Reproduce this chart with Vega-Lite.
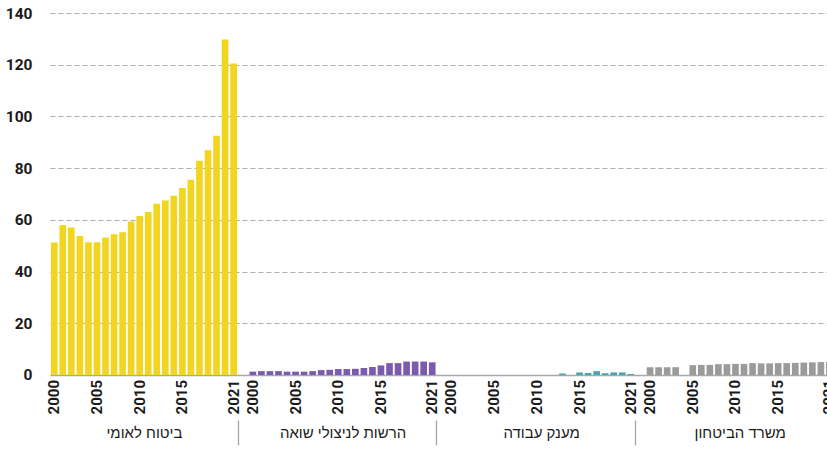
{
  "$schema": "https://vega.github.io/schema/vega-lite/v6.json",
  "width": 783.7,
  "height": 362,
  "autosize": {"type": "none"},
  "padding": {"left": 50, "top": 13, "right": 0, "bottom": 92},
  "background": "white",
  "config": {"view": {"stroke": null}, "font": "Roboto"},
  "data": {
    "values": [
      {"g": "ביטוח לאומי", "year": 2000, "v": 51.2},
      {"g": "ביטוח לאומי", "year": 2001, "v": 58.0},
      {"g": "ביטוח לאומי", "year": 2002, "v": 57.0},
      {"g": "ביטוח לאומי", "year": 2003, "v": 53.8},
      {"g": "ביטוח לאומי", "year": 2004, "v": 51.3},
      {"g": "ביטוח לאומי", "year": 2005, "v": 51.3},
      {"g": "ביטוח לאומי", "year": 2006, "v": 53.2},
      {"g": "ביטוח לאומי", "year": 2007, "v": 54.4},
      {"g": "ביטוח לאומי", "year": 2008, "v": 55.2},
      {"g": "ביטוח לאומי", "year": 2009, "v": 59.4},
      {"g": "ביטוח לאומי", "year": 2010, "v": 61.5},
      {"g": "ביטוח לאומי", "year": 2011, "v": 63.0},
      {"g": "ביטוח לאומי", "year": 2012, "v": 66.2},
      {"g": "ביטוח לאומי", "year": 2013, "v": 67.5},
      {"g": "ביטוח לאומי", "year": 2014, "v": 69.3},
      {"g": "ביטוח לאומי", "year": 2015, "v": 72.3},
      {"g": "ביטוח לאומי", "year": 2016, "v": 75.5},
      {"g": "ביטוח לאומי", "year": 2017, "v": 82.9},
      {"g": "ביטוח לאומי", "year": 2018, "v": 86.9},
      {"g": "ביטוח לאומי", "year": 2019, "v": 92.5},
      {"g": "ביטוח לאומי", "year": 2020, "v": 129.8},
      {"g": "ביטוח לאומי", "year": 2021, "v": 120.5},
      {"g": "הרשות לניצולי שואה", "year": 2000, "v": 1.3},
      {"g": "הרשות לניצולי שואה", "year": 2001, "v": 1.5},
      {"g": "הרשות לניצולי שואה", "year": 2002, "v": 1.5},
      {"g": "הרשות לניצולי שואה", "year": 2003, "v": 1.5},
      {"g": "הרשות לניצולי שואה", "year": 2004, "v": 1.3},
      {"g": "הרשות לניצולי שואה", "year": 2005, "v": 1.3},
      {"g": "הרשות לניצולי שואה", "year": 2006, "v": 1.3},
      {"g": "הרשות לניצולי שואה", "year": 2007, "v": 1.5},
      {"g": "הרשות לניצולי שואה", "year": 2008, "v": 1.9},
      {"g": "הרשות לניצולי שואה", "year": 2009, "v": 2.0},
      {"g": "הרשות לניצולי שואה", "year": 2010, "v": 2.3},
      {"g": "הרשות לניצולי שואה", "year": 2011, "v": 2.3},
      {"g": "הרשות לניצולי שואה", "year": 2012, "v": 2.4},
      {"g": "הרשות לניצולי שואה", "year": 2013, "v": 2.7},
      {"g": "הרשות לניצולי שואה", "year": 2014, "v": 3.1},
      {"g": "הרשות לניצולי שואה", "year": 2015, "v": 3.7},
      {"g": "הרשות לניצולי שואה", "year": 2016, "v": 4.6},
      {"g": "הרשות לניצולי שואה", "year": 2017, "v": 4.6},
      {"g": "הרשות לניצולי שואה", "year": 2018, "v": 5.2},
      {"g": "הרשות לניצולי שואה", "year": 2019, "v": 5.2},
      {"g": "הרשות לניצולי שואה", "year": 2020, "v": 5.2},
      {"g": "הרשות לניצולי שואה", "year": 2021, "v": 4.9},
      {"g": "מענק עבודה", "year": 2000, "v": null},
      {"g": "מענק עבודה", "year": 2001, "v": null},
      {"g": "מענק עבודה", "year": 2002, "v": null},
      {"g": "מענק עבודה", "year": 2003, "v": null},
      {"g": "מענק עבודה", "year": 2004, "v": null},
      {"g": "מענק עבודה", "year": 2005, "v": null},
      {"g": "מענק עבודה", "year": 2006, "v": null},
      {"g": "מענק עבודה", "year": 2007, "v": null},
      {"g": "מענק עבודה", "year": 2008, "v": null},
      {"g": "מענק עבודה", "year": 2009, "v": null},
      {"g": "מענק עבודה", "year": 2010, "v": null},
      {"g": "מענק עבודה", "year": 2011, "v": null},
      {"g": "מענק עבודה", "year": 2012, "v": null},
      {"g": "מענק עבודה", "year": 2013, "v": 0.6},
      {"g": "מענק עבודה", "year": 2014, "v": null},
      {"g": "מענק עבודה", "year": 2015, "v": 1.0},
      {"g": "מענק עבודה", "year": 2016, "v": 0.8},
      {"g": "מענק עבודה", "year": 2017, "v": 1.5},
      {"g": "מענק עבודה", "year": 2018, "v": 0.7},
      {"g": "מענק עבודה", "year": 2019, "v": 1.0},
      {"g": "מענק עבודה", "year": 2020, "v": 1.0},
      {"g": "מענק עבודה", "year": 2021, "v": 0.4},
      {"g": "משרד הביטחון", "year": 2000, "v": 3.0},
      {"g": "משרד הביטחון", "year": 2001, "v": 3.0},
      {"g": "משרד הביטחון", "year": 2002, "v": 3.0},
      {"g": "משרד הביטחון", "year": 2003, "v": 3.0},
      {"g": "משרד הביטחון", "year": 2004, "v": null},
      {"g": "משרד הביטחון", "year": 2005, "v": 3.8},
      {"g": "משרד הביטחון", "year": 2006, "v": 3.9},
      {"g": "משרד הביטחון", "year": 2007, "v": 3.9},
      {"g": "משרד הביטחון", "year": 2008, "v": 4.2},
      {"g": "משרד הביטחון", "year": 2009, "v": 4.2},
      {"g": "משרד הביטחון", "year": 2010, "v": 4.3},
      {"g": "משרד הביטחון", "year": 2011, "v": 4.3},
      {"g": "משרד הביטחון", "year": 2012, "v": 4.6},
      {"g": "משרד הביטחון", "year": 2013, "v": 4.5},
      {"g": "משרד הביטחון", "year": 2014, "v": 4.5},
      {"g": "משרד הביטחון", "year": 2015, "v": 4.6},
      {"g": "משרד הביטחון", "year": 2016, "v": 4.6},
      {"g": "משרד הביטחון", "year": 2017, "v": 4.7},
      {"g": "משרד הביטחון", "year": 2018, "v": 4.8},
      {"g": "משרד הביטחון", "year": 2019, "v": 4.9},
      {"g": "משרד הביטחון", "year": 2020, "v": 5.0},
      {"g": "משרד הביטחון", "year": 2021, "v": 5.0}
    ]
  },
  "encoding": {
    "x": {
      "field": "g",
      "type": "nominal",
      "sort": ["ביטוח לאומי", "הרשות לניצולי שואה", "מענק עבודה", "משרד הביטחון"],
      "title": null,
      "scale": {"paddingInner": 0.0539, "paddingOuter": 0},
      "axis": {
        "offset": 45,
        "domain": false,
        "grid": false,
        "tickBand": "extent",
        "tickSize": 25,
        "tickColor": "#a6a6a6",
        "tickWidth": 1.3,
        "tickOpacity": {"condition": {"test": "datum.extra", "value": 0}, "value": 1},
        "labelAngle": 0,
        "labelBaseline": "middle",
        "labelPadding": -12.5,
        "labelFont": "Liberation Sans",
        "labelFontSize": 15,
        "labelFontWeight": 500,
        "labelColor": "#1a1a1a"
      }
    },
    "xOffset": {
      "field": "year",
      "type": "ordinal",
      "scale": {"paddingInner": 0.22, "paddingOuter": 0.11}
    }
  },
  "layer": [
    {
      "mark": {"type": "bar"},
      "encoding": {
        "y": {
          "field": "v",
          "type": "quantitative",
          "scale": {"domain": [0, 140], "nice": false},
          "axis": {
            "title": null,
            "values": [0, 20, 40, 60, 80, 100, 120, 140],
            "ticks": false,
            "domain": false,
            "labelPadding": 18,
            "labelFont": "Roboto",
            "labelFontSize": 15.5,
            "labelFontWeight": "bold",
            "labelColor": "#1a1a1a",
            "gridColor": {"condition": {"test": "datum.value === 0", "value": "#a8a8a8"}, "value": "#b0b0b0"},
            "gridDash": {"condition": {"test": "datum.value === 0", "value": []}, "value": [5, 3]},
            "gridWidth": {"condition": {"test": "datum.value === 0", "value": 1.6}, "value": 1.2}
          }
        },
        "color": {
          "field": "g",
          "type": "nominal",
          "legend": null,
          "scale": {
            "domain": ["ביטוח לאומי", "הרשות לניצולי שואה", "מענק עבודה", "משרד הביטחון"],
            "range": ["#F1D51F", "#7A5BAE", "#4AA5B3", "#9B9B9B"]
          }
        }
      }
    },
    {
      "transform": [{"filter": "indexof([2000, 2005, 2010, 2015, 2021], datum.year) >= 0"}],
      "mark": {
        "type": "text",
        "angle": 270,
        "align": "right",
        "baseline": "middle",
        "dx": -5,
        "font": "Roboto",
        "fontWeight": "bold",
        "fontSize": 15,
        "color": "#1a1a1a"
      },
      "encoding": {
        "y": {"datum": 0, "type": "quantitative"},
        "text": {"field": "year", "type": "ordinal"}
      }
    }
  ]
}
